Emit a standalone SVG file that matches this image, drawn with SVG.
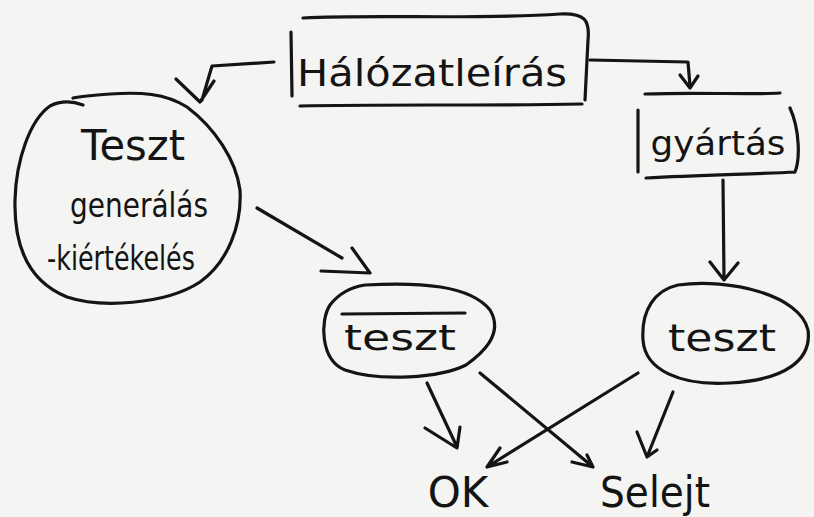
<svg xmlns="http://www.w3.org/2000/svg" width="814" height="517" viewBox="0 0 814 517">
<style>
.s{fill:none;stroke:#141414;stroke-width:3.2;stroke-linecap:round;stroke-linejoin:round}
.t{font-family:"DejaVu Sans","Liberation Sans",sans-serif;fill:#141414}
</style>
<rect width="814" height="517" fill="#f4f4f2"/>
<g id="halozatleiras">
<path class="s" d="M303,18 C380,14 470,20 560,14 C585,13 590,20 588,40 L585,100 M291,32 L292,96 M300,106 C380,104 480,106 582,104"/>
<text class="t" x="432" y="86" font-size="38" text-anchor="middle" textLength="270" lengthAdjust="spacingAndGlyphs">Hálózatleírás</text>
</g>
<g id="teszt-generalas">
<path class="s" d="M83,105 C72,101 62,100 50,106 C30,120 16,160 15,200 C14,240 25,280 67,297 C100,308 165,305 200,282 C228,262 242,225 240,190 C236,160 215,128 187,107 C165,93 140,92 110,94 C95,95 82,96 73,98"/>
<text class="t" x="133" y="160" font-size="42" text-anchor="middle" textLength="104" lengthAdjust="spacingAndGlyphs">Teszt</text>
<text class="t" x="139" y="217" font-size="34" text-anchor="middle" textLength="138" lengthAdjust="spacingAndGlyphs">generálás</text>
<text class="t" x="121" y="270" font-size="34" text-anchor="middle" textLength="148" lengthAdjust="spacingAndGlyphs">-kiértékelés</text>
</g>
<g id="gyartas">
<path class="s" d="M645,94 C700,92 750,95 780,93 M638,110 L638,172 M790,108 C800,130 800,160 795,172 M646,178 C700,175 760,174 795,172"/>
<text class="t" x="718" y="155" font-size="34" text-anchor="middle" textLength="135" lengthAdjust="spacingAndGlyphs">gyártás</text>
</g>
<g id="teszt-1">
<path class="s" d="M365,285 C420,282 470,285 490,310 C505,335 480,355 466,365 C440,378 380,382 345,370 C320,360 320,320 330,305 C340,292 352,287 365,285"/>
<path class="s" d="M342,314 L465,313"/>
<text class="t" x="400" y="350" font-size="36" text-anchor="middle" textLength="112" lengthAdjust="spacingAndGlyphs">teszt</text>
</g>
<g id="teszt-2">
<path class="s" d="M678,285 C730,278 800,295 808,330 C812,360 785,380 730,383 C680,386 645,370 643,340 C641,310 655,290 678,285"/>
<text class="t" x="722" y="351" font-size="38" text-anchor="middle" textLength="108" lengthAdjust="spacingAndGlyphs">teszt</text>
</g>
<g id="ok">
<text class="t" x="458" y="507" font-size="42" text-anchor="middle">OK</text>
</g>
<g id="selejt">
<text class="t" x="655" y="507" font-size="42" text-anchor="middle" textLength="110" lengthAdjust="spacingAndGlyphs">Selejt</text>
</g>
<g id="connectors">
<path class="s" d="M274,62 L212,66 L202,100 M176,79 L200,102 L214,81"/>
<path class="s" d="M590,60 L688,62 L690,86 M680,75 L690,88 L698,76"/>
<path class="s" d="M723,180 L724,278 M710,262 L724,280 L738,263"/>
<path class="s" d="M257,208 L342,258 M352,248 L370,273 L321,271"/>
<path class="s" d="M427,383 L457,447 M425,428 L457,448 L460,427"/>
<path class="s" d="M480,373 L593,467 M572,462 L593,467 L587,455"/>
<path class="s" d="M638,373 L487,467 M500,448 L487,467 L507,462"/>
<path class="s" d="M673,392 L647,457 M637,432 L647,457 L657,450"/>
</g>
</svg>
